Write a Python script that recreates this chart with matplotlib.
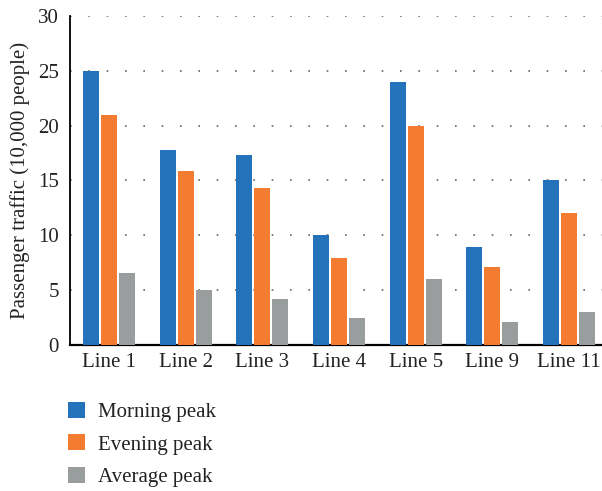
import numpy as np
import matplotlib.pyplot as plt

plt.rcParams['font.family'] = ['Liberation Serif', 'DejaVu Serif']

lines = ['Line 1', 'Line 2', 'Line 3', 'Line 4', 'Line 5', 'Line 9', 'Line 11']
morning = [25.0, 17.8, 17.3, 10.0, 24.0, 8.9, 15.0]
evening = [21.0, 15.9, 14.3, 7.9, 20.0, 7.1, 12.0]
average = [6.6, 5.0, 4.2, 2.5, 6.0, 2.1, 3.0]

fig = plt.figure(figsize=(6.02, 4.91), dpi=100)
ax = fig.add_axes([0.1163, 0.2974, 0.8837, 0.67])

x = np.arange(len(lines))
w = 0.21
step = 0.235
ax.bar(x - step, morning, w, color='#2372BA', label='Morning peak', zorder=3)
ax.bar(x, evening, w, color='#F47C30', label='Evening peak', zorder=3)
ax.bar(x + step, average, w, color='#9A9D9D', label='Average peak', zorder=3)

ax.set_xlim(-0.51, 6.43)
ax.set_ylim(0, 30)
ax.set_yticks(range(0, 31, 5))
ax.set_xticks(x)
ax.set_xticklabels(lines)
ax.tick_params(length=0, labelsize=15, colors='#222222', pad=6)
ax.tick_params(axis='y', pad=8)
ax.yaxis.grid(True, linestyle=(0, (1, 10)), color='#666666', linewidth=1.2, zorder=0)
ax.spines['top'].set_visible(False)
ax.spines['right'].set_visible(False)
ax.spines['left'].set_linewidth(1.3)
ax.spines['bottom'].set_linewidth(1.6)
ax.set_ylabel('Passenger traffic (10,000 people)', fontsize=15, color='#222222', labelpad=6)

fig.legend(loc='upper left', bbox_to_anchor=(0.082, 0.22), frameon=False,
           fontsize=15, handlelength=0.8, handleheight=0.8, handletextpad=0.65,
           labelspacing=0.6, labelcolor='#222222')

fig.savefig('out.png', dpi=100)
